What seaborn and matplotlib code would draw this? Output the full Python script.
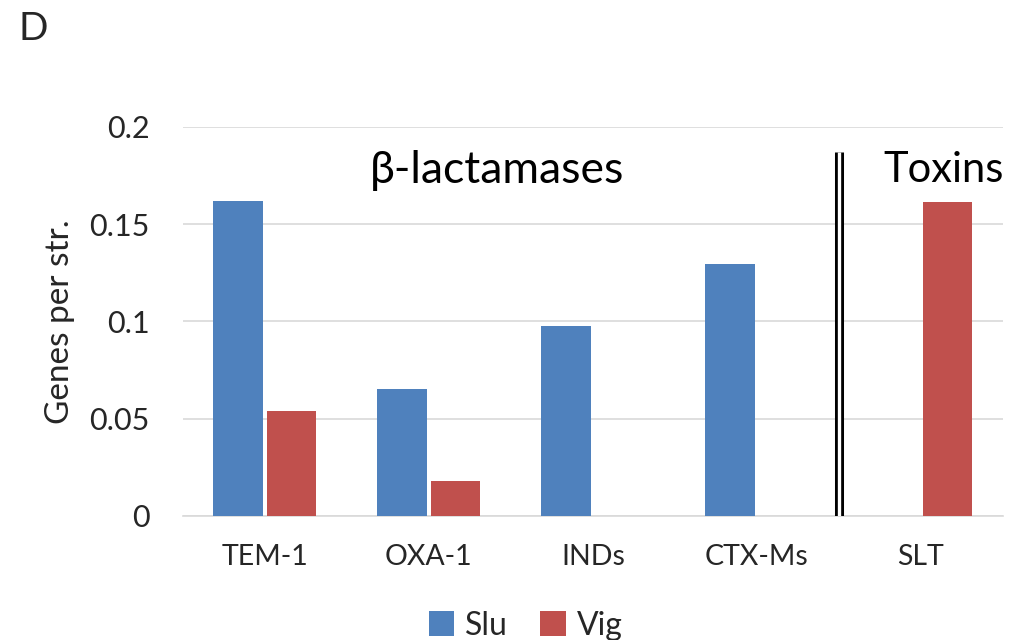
import matplotlib
matplotlib.use("Agg")
import matplotlib.pyplot as plt
import seaborn as sns
import pandas as pd

categories = ["TEM-1", "OXA-1", "INDs", "CTX-Ms", "SLT"]
slu = [0.162, 0.0653, 0.0977, 0.1296, 0.0]
vig = [0.054, 0.018, 0.0, 0.0, 0.1614]
series_names = ["Slu", "Vig"]
colors = ["#4F81BD", "#C0504D"]
yticks = [0, 0.05, 0.1, 0.15, 0.2]
ytick_labels = ["0", "0.05", "0.1", "0.15", "0.2"]

df = pd.DataFrame({
    "category": categories * 2,
    "series": [series_names[0]] * len(categories) + [series_names[1]] * len(categories),
    "value": slu + vig,
})

sns.set_theme(style="white")
plt.rcParams["font.family"] = ["Lato", "DejaVu Sans"]

fig = plt.figure(figsize=(10.1, 6.4), dpi=100)
ax = fig.add_axes([0.181, 0.194, 0.812, 0.608])

sns.barplot(data=df, x="category", y="value", hue="series", order=categories,
            hue_order=series_names, palette=colors, saturation=1, width=0.65, gap=0.07,
            linewidth=0, ax=ax, legend=True, zorder=3)

ax.set_ylim(0, 0.2)
ax.set_xlim(-0.5, len(categories) - 0.5)
ax.set_yticks(yticks)
ax.set_yticklabels(ytick_labels, fontsize=22)
ax.tick_params(axis="x", labelsize=20.5, length=0, pad=20)
ax.tick_params(axis="y", length=0, pad=24)
ax.yaxis.grid(True, color="#D9D9D9", linewidth=1.2, zorder=0)
ax.set_axisbelow(True)
for s in ["top", "right", "left"]:
    ax.spines[s].set_visible(False)
ax.spines["bottom"].set_color("#D9D9D9")
ax.spines["bottom"].set_linewidth(1.2)
ax.set_xlabel("")
ax.set_ylabel("Genes per str.", fontsize=24, labelpad=10)

# double separator line between groups
ax.plot([3.5, 3.5], [0, 0.187], color="black", linewidth=6.5, solid_capstyle="butt", zorder=4)
ax.plot([3.5, 3.5], [0, 0.187], color="white", linewidth=2.4, solid_capstyle="butt", zorder=5)

ax.text(1.415, 0.1775, "β-lactamases", fontsize=32, ha="center", va="center", color="black")
ax.text(4.14, 0.1775, "Toxins", fontsize=30, ha="center", va="center", color="black")

fig.text(0.018, 0.955, "D", fontsize=28, ha="left", va="center")

leg = ax.legend(loc="upper center", bbox_to_anchor=(0.418, -0.17), ncol=2, frameon=False,
                fontsize=23, handlelength=0.8, handleheight=0.8, handletextpad=0.35,
                columnspacing=1.0)

fig.savefig("out.png", dpi=100)
